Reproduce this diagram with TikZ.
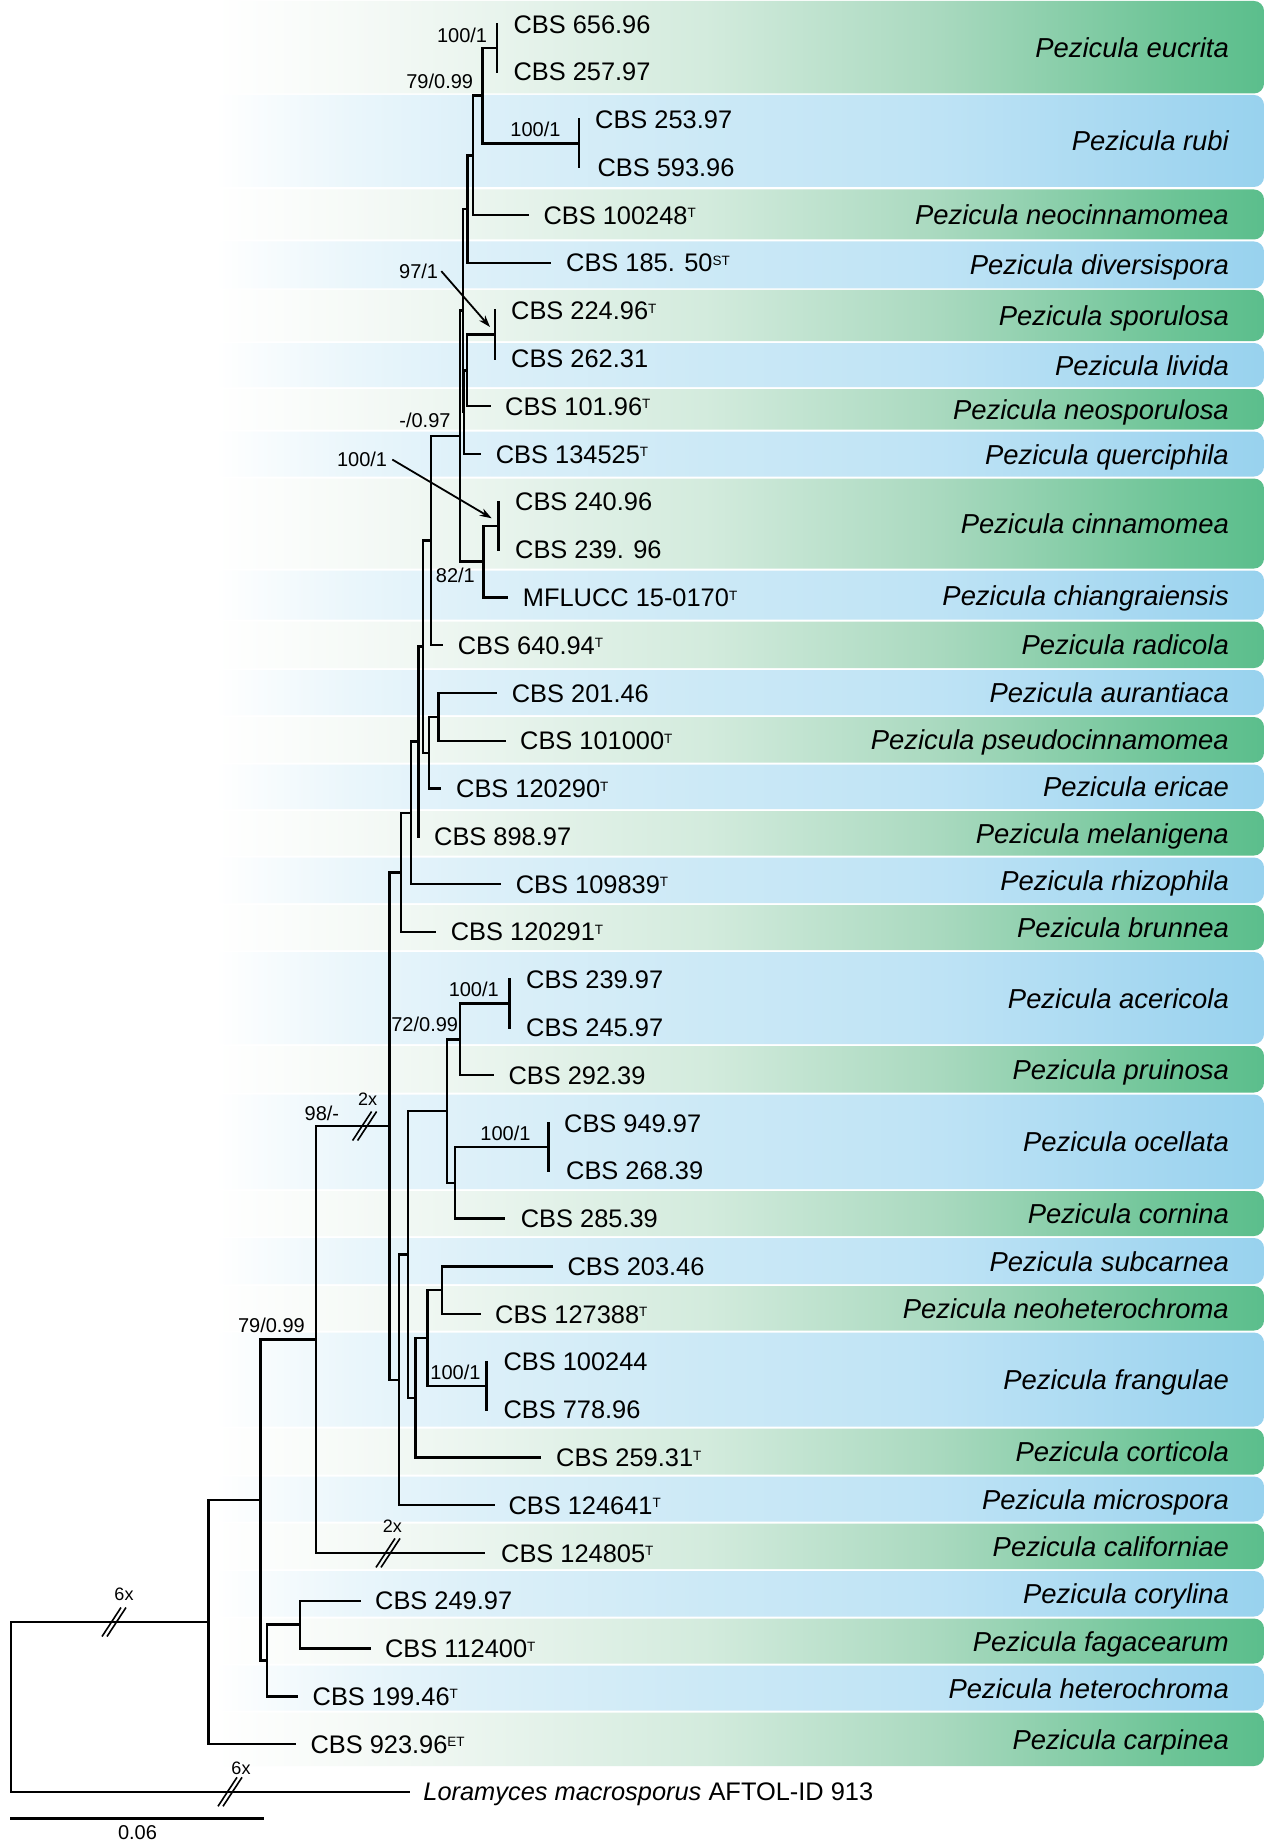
\documentclass[tikz,border=0pt]{standalone}
\usepackage{fontspec}
\setmainfont{Liberation Sans}
\usetikzlibrary{arrows.meta}
\definecolor{gc1}{HTML}{F6FAF7}
\definecolor{gc2}{HTML}{EBF5EF}
\definecolor{gc3}{HTML}{D3EBDD}
\definecolor{gc4}{HTML}{A9D9BF}
\definecolor{gc5}{HTML}{6CC496}
\definecolor{gc6}{HTML}{5BBE8C}
\definecolor{bc1}{HTML}{EAF6FB}
\definecolor{bc2}{HTML}{DDF0F9}
\definecolor{bc3}{HTML}{CCE9F6}
\definecolor{bc4}{HTML}{BEE3F5}
\definecolor{bc5}{HTML}{A2D6F0}
\definecolor{bc6}{HTML}{98D2EE}
\pgfdeclarehorizontalshading{gshade}{100bp}{color(0bp)=(white); color(25bp)=(white); color(31.5bp)=(gc1); color(37.15bp)=(gc2); color(48.35bp)=(gc3); color(59.5bp)=(gc4); color(70.8bp)=(gc5); color(75bp)=(gc6); color(100bp)=(gc6)}
\pgfdeclarehorizontalshading{bshade}{100bp}{color(0bp)=(white); color(25bp)=(white); color(31.5bp)=(bc1); color(37.15bp)=(bc2); color(48.35bp)=(bc3); color(59.5bp)=(bc4); color(70.8bp)=(bc5); color(75bp)=(bc6); color(100bp)=(bc6)}
\newcommand\leaffont{\fontsize{25.4}{30}\selectfont}
\newcommand\spfont{\fontsize{27.4}{32}\selectfont\itshape}
\newcommand\bsfont{\fontsize{20}{24}\selectfont}
\newcommand\brfont{\fontsize{18}{22}\selectfont}
\newcommand\tsup[1]{\raisebox{6.5pt}{\fontsize{13.5}{13.5}\selectfont #1}}
\begin{document}
\begin{tikzpicture}[x=1pt,y=-1pt,
  br/.style={line width=2.4pt, line cap=rect},
  leaf/.style={anchor=base west, inner sep=0pt, font=\leaffont},
  sp/.style={anchor=base east, inner sep=0pt, font=\spfont},
  bs/.style={anchor=base east, inner sep=0pt, font=\bsfont},
  bk/.style={anchor=base, inner sep=0pt, font=\brfont},
  arr/.style={line width=1.8pt, -{Stealth[length=12pt,width=8pt]}},
  brk/.pic={\draw[line width=1.6pt] (-12,14.5) -- (7,-14.5); \draw[line width=1.6pt] (-7,14.5) -- (12,-14.5);}]
\useasboundingbox[fill=white] (0,0) rectangle (1264,1843);

% species bands and names
\foreach \ya/\yb/\cl/\nm [count=\i] in {
  1/93.5/gshade/eucrita, 95/187/bshade/rubi, 189.5/239.5/gshade/neocinnamomea,
  241.5/288.5/bshade/diversispora, 290/341/gshade/sporulosa, 343/387/bshade/livida,
  389/429.5/gshade/neosporulosa, 431.5/476.5/bshade/querciphila, 478.5/568.5/gshade/cinnamomea,
  570.5/619.5/bshade/chiangraiensis, 621.5/668/gshade/radicola, 670/715/bshade/aurantiaca,
  717/762.5/gshade/pseudocinnamomea, 764.5/809/bshade/ericae, 811/855.5/gshade/melanigena,
  857.5/903/bshade/rhizophila, 905/950/gshade/brunnea, 952/1044/bshade/acericola,
  1046/1092.5/gshade/pruinosa, 1094.5/1189/bshade/ocellata, 1191/1236/gshade/cornina,
  1238/1284/bshade/subcarnea, 1286/1330.5/gshade/neoheterochroma, 1332.5/1426.5/bshade/frangulae,
  1428.5/1474.5/gshade/corticola, 1476.5/1521.5/bshade/microspora, 1523.5/1569/gshade/californiae,
  1571/1616.5/bshade/corylina, 1618.5/1663.5/gshade/fagacearum, 1665.5/1710.5/bshade/heterochroma,
  1712.5/1766/gshade/carpinea}
{
  \shade[shading=\cl, rounded corners=10pt] (215,\ya) rectangle (1264,\yb);
  \node[sp] (sp\i) at (1229,{(\ya+\yb)/2+10}) {Pezicula \nm};
}

% leaf tips and labels
\foreach \tx/\ty/\lx/\txt [count=\i] in {
  496.7/24.0/513.3/CBS 656.96,
  496.7/71.8/513.3/CBS 257.97,
  578.7/119.6/595/CBS 253.97,
  578.7/167.3/597.3/CBS 593.96,
  527.7/215.1/543.3/CBS 100248\tsup{T},
  549.3/262.9/566/CBS 185. 50\tsup{ST},
  495/310.7/511/CBS 224.96\tsup{T},
  495/358.5/511/CBS 262.31,
  489.3/406.2/505/CBS 101.96\tsup{T},
  479.3/454.0/495.7/CBS 134525\tsup{T},
  498.3/501.8/515/CBS 240.96,
  498.3/549.6/515/CBS 239. 96,
  506.7/597.4/522.7/MFLUCC 15-0170\tsup{T},
  441.7/645.1/457.7/CBS 640.94\tsup{T},
  496/692.9/511.7/CBS 201.46,
  504.3/740.7/520/CBS 101000\tsup{T},
  440/788.5/456/CBS 120290\tsup{T},
  418.3/836.3/434/CBS 898.97,
  499.3/884.0/515.7/CBS 109839\tsup{T},
  435/931.8/450.7/CBS 120291\tsup{T},
  509.3/979.6/526/CBS 239.97,
  509.3/1027.4/526/CBS 245.97,
  492.7/1075.2/508.3/CBS 292.39,
  548.3/1122.9/564/CBS 949.97,
  548.3/1170.7/566/CBS 268.39,
  504/1218.5/520.7/CBS 285.39,
  551.7/1266.3/567.3/CBS 203.46,
  479.3/1314.0/495/CBS 127388\tsup{T},
  486.5/1361.8/503.3/CBS 100244,
  486.5/1409.6/503.3/CBS 778.96,
  540/1457.4/556/CBS 259.31\tsup{T},
  493.3/1505.2/508.3/CBS 124641\tsup{T},
  483.5/1552.9/501/CBS 124805\tsup{T},
  359.4/1600.7/375/CBS 249.97,
  369.6/1648.5/384.8/CBS 112400\tsup{T},
  297/1696.3/312.5/CBS 199.46\tsup{T},
  294.6/1744.0/310.3/CBS 923.96\tsup{ET},
  408.5/1791.8/423.2/\textit{Loramyces macrosporus} AFTOL-ID 913}
{
  \coordinate (t\i) at (\tx,\ty);
  \node[leaf] (l\i) at (\lx,{\ty+9.1}) {\txt};
}

% internal nodes
\coordinate (A) at (496.7,47.9);
\coordinate (C) at (578.7,143.5);
\coordinate (B) at (482.3,95.7);
\coordinate (D) at (472.7,155.4);
\coordinate (E) at (467.3,209.2);
\coordinate (G1) at (495,334.6);
\coordinate (G) at (466.7,370.4);
\coordinate (F2) at (464,412.2);
\coordinate (F) at (462.8,310.7);
\coordinate (K1) at (498.3,525.7);
\coordinate (K) at (483.3,561.6);
\coordinate (H) at (460,436.1);
\coordinate (L) at (431,540.6);
\coordinate (Q8) at (438.3,716.8);
\coordinate (Q9) at (429,752.7);
\coordinate (M) at (422.7,646.6);
\coordinate (N) at (418.3,741.5);
\coordinate (O) at (411,812.8);
\coordinate (P) at (401,872.3);
\coordinate (AAb) at (509.3,1003.5);
\coordinate (AA) at (460,1039.4);
\coordinate (BBb) at (548.3,1146.8);
\coordinate (BB) at (455,1182.7);
\coordinate (V) at (446.7,1111);
\coordinate (Y) at (442,1290.2);
\coordinate (Z) at (486.5,1385.7);
\coordinate (X) at (427.5,1337.9);
\coordinate (W) at (415.5,1397.7);
\coordinate (U) at (408,1254.4);
\coordinate (T) at (399,1379.8);
\coordinate (S) at (389.3,1126);
\coordinate (R) at (316,1339.5);
\coordinate (FF) at (300,1624.6);
\coordinate (EE) at (267,1660.5);
\coordinate (CC) at (260.5,1500);
\coordinate (DD) at (208.5,1622);
\coordinate (Root) at (11,1706.9);

% branches
\foreach \p/\c in {A/t1, A/t2, C/t3, C/t4, B/A, B/C, D/B, D/t5, E/D, E/t6,
  G1/t7, G1/t8, G/G1, G/t9, F2/G, F2/t10, F/E, F/F2, K1/t11, K1/t12, K/K1, K/t13,
  H/F, H/K, L/H, L/t14, Q8/t15, Q8/t16, Q9/Q8, Q9/t17, M/L, M/Q9, N/M, N/t18,
  O/N, O/t19, P/O, P/t20, S/P, S/T, T/U, T/t32, U/V, U/W, V/AA, V/BB,
  AA/AAb, AA/t23, AAb/t21, AAb/t22, BB/BBb, BB/t26, BBb/t24, BBb/t25,
  W/X, W/t31, X/Y, X/Z, Y/t27, Y/t28, Z/t29, Z/t30, R/S, R/t33,
  CC/R, CC/EE, EE/FF, EE/t36, FF/t34, FF/t35, DD/CC, DD/t37, Root/DD, Root/t38}
{
  \draw[br] (\p) |- (\c);
}

% breaks
\coordinate (k1) at (364.6,1126);
\coordinate (k2) at (388,1552.9);
\coordinate (k3) at (114,1622);
\coordinate (k4) at (230,1791.8);
\pic at (k1) {brk};
\pic at (k2) {brk};
\pic at (k3) {brk};
\pic at (k4) {brk};
\node[bk] (kl1) at (367.5,1105.7) {2x};
\node[bk] (kl2) at (392.4,1532.7) {2x};
\node[bk] (kl3) at (124,1600.7) {6x};
\node[bk] (kl4) at (241,1774) {6x};

% support values
\node[bs] (s1) at (487.3,42.7) {100/1};
\node[bs] (s2) at (473.3,88.3) {79/0.99};
\node[bs] (s3) at (560.7,136.7) {100/1};
\node[bs] (s4) at (438.3,278.3) {97/1};
\node[bs] (s5) at (450.7,427.3) {-/0.97};
\node[bs] (s6) at (387.3,466.7) {100/1};
\node[bs] (s7) at (475,582.7) {82/1};
\node[bs] (s8) at (499,996) {100/1};
\node[bs] (s9) at (458.3,1031.7) {72/0.99};
\node[bs] (s10) at (530.7,1140.7) {100/1};
\node[bs] (s11) at (339.3,1120) {98/-};
\node[bs] (s12) at (480.7,1379.3) {100/1};
\node[bs] (s13) at (305,1332.7) {79/0.99};

% arrows
\coordinate (a1e) at (490,327);
\coordinate (a2e) at (491.7,518.3);
\draw[arr] ([xshift=3pt]s4.east) -- (a1e);
\draw[arr] ([xshift=5pt]s6.east) -- (a2e);

% scale bar
\coordinate (sb1) at (11.2,1818.3);
\coordinate (sb2) at (262.5,1818.3);
\draw[br] (sb1) -- (sb2);
\node[anchor=base, inner sep=0pt, font=\bsfont] (sbl) at (137.5,1839) {0.06};
\end{tikzpicture}
\end{document}
